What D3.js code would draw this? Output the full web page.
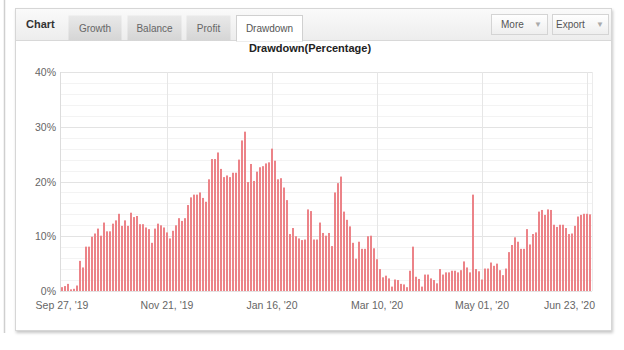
<!DOCTYPE html>
<html><head><meta charset="utf-8">
<script src="https://cdn.jsdelivr.net/npm/d3@7"></script>
<style>html,body{margin:0;padding:0;background:#fff;}svg{display:block;font-family:"Liberation Sans",Arial,sans-serif;}</style>
</head><body>
<svg id="c" width="624" height="350"></svg>
<script>
const drawdown = [0.7,0.9,1.3,0.3,0.4,1.0,5.5,4.3,8.1,8.1,9.9,10.5,11.4,10.1,12.5,10.9,10.9,12.3,12.9,14.1,
11.9,12.9,11.9,14.3,13.5,13.7,12.2,12.2,11.6,11.3,8.8,11.4,12.3,12.0,11.6,10.7,9.6,11.0,12.0,13.3,
12.8,13.3,15.7,17.1,17.6,17.6,18.0,17.0,16.3,20.4,24.1,24.1,25.3,22.3,20.8,21.1,20.8,21.6,21.6,24.0,
27.5,29.1,19.9,23.2,20.1,21.8,22.6,22.8,23.3,23.5,26.0,23.8,20.4,20.6,18.9,16.6,10.4,11.5,10.0,9.6,
9.3,9.4,14.9,14.6,9.4,9.4,12.5,10.6,10.1,10.6,8.2,18.0,19.7,20.9,14.5,13.0,11.8,8.8,5.9,9.0,
7.7,7.7,10.0,10.1,7.8,5.8,4.0,2.5,2.8,2.3,0.8,2.1,2.0,1.3,1.2,0.7,3.7,8.1,2.6,2.2,
0.8,3.0,3.0,2.3,2.0,1.4,4.0,3.0,3.4,3.4,3.7,3.7,3.4,3.8,5.4,4.3,3.4,17.6,4.0,3.6,
2.1,4.1,4.1,5.2,4.6,5.0,3.8,2.9,4.1,7.1,8.4,9.8,9.0,7.7,7.7,11.3,8.5,10.4,10.7,14.5,
14.8,13.9,14.9,14.8,12.1,11.7,12.1,12.1,11.5,10.4,10.5,11.9,13.6,13.9,14.1,14.1,14.0];
const tickIndex = [0,35,70,105,140,175];
const tickLabels = ["Sep 27, '19","Nov 21, '19","Jan 16, '20","Mar 10, '20","May 01, '20","Jun 23, '20"];
const yMajor = [0,10,20,30,40];
const yMinor = [2,4,6,8,12,14,16,18,22,24,26,28,32,34,36,38];
const tabs = ["Growth","Balance","Profit","Drawdown"];
const buttons = ["More","Export"];
const chartTitle = "Drawdown(Percentage)";

const svg = d3.select("#c");
const defs = svg.append("defs");
const sh = defs.append("filter").attr("id","sh").attr("x","-5%").attr("y","-5%").attr("width","110%").attr("height","115%");
sh.append("feDropShadow").attr("dx",1).attr("dy",2).attr("stdDeviation",1.6).attr("flood-color","#000").attr("flood-opacity",0.22);
function grad(id,a,b){const g=defs.append("linearGradient").attr("id",id).attr("x1",0).attr("y1",0).attr("x2",0).attr("y2",1);
 g.append("stop").attr("offset","0").attr("stop-color",a);g.append("stop").attr("offset","1").attr("stop-color",b);}
grad("hdr","#fafafa","#ededed");
grad("tab","#e9e9e9","#d5d5d5");
grad("btn","#ffffff","#eeeeee");

// left page border
svg.append("line").attr("x1",4.5).attr("x2",4.5).attr("y1",0).attr("y2",333).attr("stroke","#cfcfcf").attr("stroke-width",1.5);

// panel
svg.append("rect").attr("x",15.5).attr("y",8.5).attr("width",596).attr("height",322)
  .attr("fill","#fff").attr("stroke","#d6d6d6").attr("filter","url(#sh)");
svg.append("rect").attr("x",16).attr("y",9).attr("width",595).attr("height",31).attr("fill","url(#hdr)");
svg.append("line").attr("x1",16).attr("x2",611).attr("y1",40.5).attr("y2",40.5).attr("stroke","#d8d8d8");
svg.append("text").attr("x",26).attr("y",28).attr("font-size",11).attr("font-weight","bold").attr("fill","#333").text("Chart");

const tabX=[68,127,186,236], tabW=[53,54,44,66];
tabs.forEach((t,i)=>{
  const active = i===tabs.length-1;
  svg.append("rect").attr("x",tabX[i]+0.5).attr("y",15.5).attr("width",tabW[i]).attr("height",active?25.5:25)
    .attr("fill",active?"#fff":"url(#tab)").attr("stroke",active?"#d0d0d0":"none");
  if(active) svg.append("line").attr("x1",tabX[i]+1).attr("x2",tabX[i]+tabW[i]).attr("y1",40.5).attr("y2",40.5).attr("stroke","#fff").attr("stroke-width",1.5);
  svg.append("text").attr("x",tabX[i]+tabW[i]/2+0.5).attr("y",31.5).attr("text-anchor","middle")
    .attr("font-size",10).attr("fill",active?"#555":"#666").text(t);
});
const btnX=[491,552];
buttons.forEach((b,i)=>{
  svg.append("rect").attr("x",btnX[i]+0.5).attr("y",14.5).attr("width",56).attr("height",20)
    .attr("fill","url(#btn)").attr("stroke","#d4d4d4");
  svg.append("text").attr("x",btnX[i]+(i?4:10)).attr("y",28).attr("font-size",10).attr("fill","#555").text(b);
  svg.append("text").attr("x",btnX[i]+(i?48:47)).attr("y",27).attr("font-size",8).attr("fill","#aaa").attr("text-anchor","middle").text("\u25BC");
});

svg.append("text").attr("x",310).attr("y",52).attr("text-anchor","middle").attr("font-size",11)
  .attr("font-weight","bold").attr("fill","#222").text(chartTitle);

// scales
const x = d3.scaleBand().domain(d3.range(drawdown.length)).range([61,591]).paddingInner(1/3).paddingOuter(0);
const y = d3.scaleLinear().domain([0,40]).range([291,72]);
const cx = i => x(i)+x.bandwidth()/2;

const g = svg.append("g");
g.selectAll(".mn").data(yMinor).join("line").attr("x1",61).attr("x2",592)
  .attr("y1",d=>Math.round(y(d))+0.5).attr("y2",d=>Math.round(y(d))+0.5).attr("stroke","#f3f3f3");
g.selectAll(".mj").data(yMajor).join("line").attr("x1",61).attr("x2",592)
  .attr("y1",d=>Math.round(y(d))+0.5).attr("y2",d=>Math.round(y(d))+0.5).attr("stroke","#e3e3e3");
g.selectAll(".vg").data(tickIndex.slice(1)).join("line").attr("x1",d=>Math.round(cx(d))+0.5).attr("x2",d=>Math.round(cx(d))+0.5)
  .attr("y1",72).attr("y2",291).attr("stroke","#e6e6e6");
g.append("line").attr("x1",592.5).attr("x2",592.5).attr("y1",72).attr("y2",291).attr("stroke","#ececec");
g.append("line").attr("x1",60.5).attr("x2",60.5).attr("y1",72).attr("y2",292).attr("stroke","#dcdcdc");

// bars
g.selectAll(".bar").data(drawdown).join("rect")
  .attr("x",(d,i)=>x(i)).attr("width",x.bandwidth())
  .attr("y",d=>y(d)).attr("height",d=>y(0)-y(d)).attr("fill","#ec8388");

// y labels
g.selectAll(".yl").data(yMajor).join("text").attr("x",56).attr("y",d=>y(d)+4).attr("text-anchor","end")
  .attr("font-size",10.5).attr("fill","#666").text(d=>d+"%");
// x labels
g.selectAll(".xl").data(tickIndex).join("text").attr("y",309).attr("text-anchor","middle")
  .attr("font-size",10.5).attr("fill","#666").text((d,i)=>tickLabels[i])
  .attr("x",function(d){const w=this.getComputedTextLength();let c=cx(d);if(c+w/2>595)c=595-w/2;return c;});
</script>
</body></html>
